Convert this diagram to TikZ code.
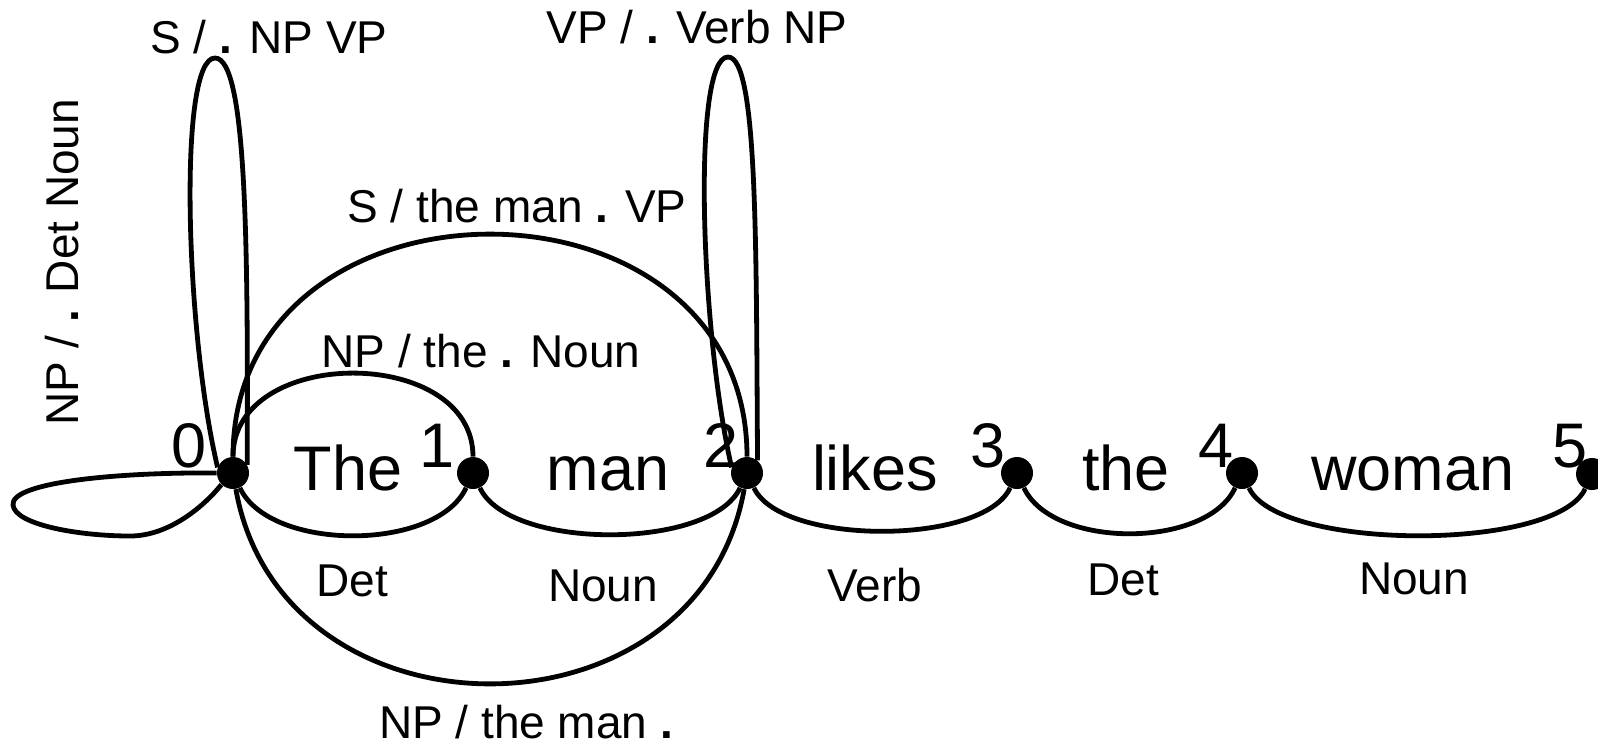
\documentclass[tikz,border=0pt]{standalone}
\usepackage{fontspec}
\setmainfont{Liberation Sans}
\newcommand{\bdot}{\textbf{.}}

\begin{document}
\begin{tikzpicture}[
x=0.5pt, y=0.5pt,
dot/.style={circle, fill, inner sep=0pt, minimum size=16pt},
word/.style={font=\fontsize{31.5}{36}\selectfont, anchor=base},
lab/.style={font=\fontsize{23}{27}\selectfont, anchor=base, inner sep=1pt},
link/.style={line width=2.4pt}
]
\useasboundingbox (0,0) rectangle (1598,-746);
% chart positions
\node[dot] (p0) at (233,-473) {};
\node[dot] (p1) at (473,-473) {};
\node[dot] (p2) at (747,-473) {};
\node[dot] (p3) at (1017,-473) {};
\node[dot] (p4) at (1242,-473) {};
\node[dot] (p5) at (1592,-474) {};
\node[word] (n0) at (189,-467) {0};
\node[word] (n1) at (437,-467) {1};
\node[word] (n2) at (721,-467) {2};
\node[word] (n3) at (988,-467) {3};
\node[word] (n4) at (1216,-467) {4};
\node[word] (n5) at (1570,-467) {5};
% words of the sentence
\node[word] (w1) at (348,-490) {The};
\node[word] (w2) at (608,-490) {man};
\node[word] (w3) at (875,-490) {likes};
\node[word] (w4) at (1126,-490) {the};
\node[word] (w5) at (1413,-490) {woman};
% lexical edges
\draw[link] (p0) to[out=-65,in=-115,looseness=0.8] (p1);
\draw[link] (p1) to[out=-65,in=-115,looseness=0.68] (p2);
\draw[link] (p2) to[out=-65,in=-115,looseness=0.64] (p3);
\draw[link] (p3) to[out=-65,in=-115,looseness=0.82] (p4);
\draw[link] (p4) to[out=-65,in=-115,looseness=0.53] (p5);
\node[lab] (c1) at (352,-596) {Det};
\node[lab] (c2) at (603,-601) {Noun};
\node[lab] (c3) at (875,-601) {Verb};
\node[lab] (c4) at (1123,-595) {Det};
\node[lab] (c5) at (1414,-594) {Noun};
% active and complete edges
\draw[link] (p0) to[out=90,in=90,looseness=1.48] (p2);
\draw[link] (p0) to[out=90,in=90,looseness=1.19] (p1);
\draw[link] (p0) to[out=-80,in=-100,looseness=1.33] (p2);
\draw[link] (p0.180) .. controls (120,-472) and (10,-482) .. (13,-505)
  .. controls (15,-525) and (80,-536) .. (130,-536)
  .. controls (170,-536) and (205,-505) .. (p0.225);
\draw[link] (p0.160) .. controls (185,-330) and (178,-58) .. (215,-58)
  .. controls (247,-58) and (248,-250) .. (p0.30);
\draw[link] (p2.160) .. controls (700,-330) and (692,-57) .. (728,-57)
  .. controls (758,-57) and (756,-250) .. (p2.50);
\node[lab] (e1) at (269,-53) {S / \bdot{} NP VP};
\node[lab] (e2) at (697,-43) {VP / \bdot{} Verb NP};
\node[lab] (e3) at (517,-222) {S / the man \bdot{} VP};
\node[lab] (e4) at (481,-367) {NP / the \bdot{} Noun};
\node[lab] (e5) at (526,-738) {NP / the man \bdot};
\node[lab, rotate=90] (e6) at (78,-262) {NP / \bdot{} Det Noun};
\end{tikzpicture}
\end{document}
